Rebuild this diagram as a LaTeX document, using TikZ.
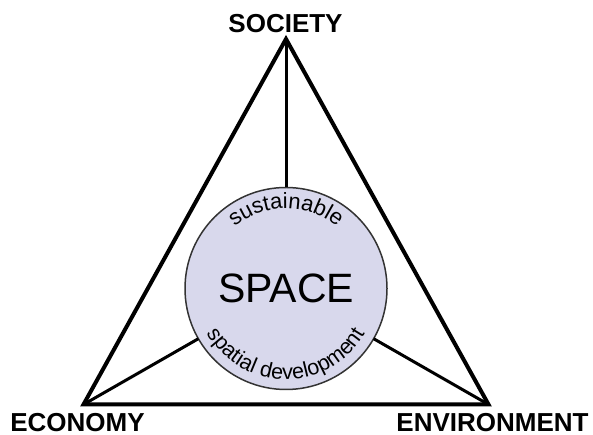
\documentclass[tikz,border=0pt]{standalone}
\usepackage{fontspec}
\setmainfont{Liberation Sans}
\usetikzlibrary{decorations.text}
\definecolor{espacio}{RGB}{216,216,236}
\begin{document}
\begin{tikzpicture}[x=1pt,y=1pt,every node/.style={inner sep=0pt},
    lado/.style={line width=4pt},
    radio/.style={line width=3pt},
    vertice/.style={font=\fontsize{26}{26}\selectfont\bfseries,anchor=base}]
    \useasboundingbox (0,0) rectangle (593,435);
    % Triangle of the three pillars with space in the middle.
    \coordinate (s) at (286,396);
    \coordinate (e) at (83.5,30.5);
    \coordinate (n) at (488.5,30.5);
    \draw[lado] (s) -- (e) -- (n) -- cycle;

    \node[circle,draw=black!80,line width=1.5pt,fill=espacio,minimum size=202pt,outer sep=0pt,
          font=\fontsize{41}{41}\selectfont] (space) at (286,146.5) {SPACE};
    \draw[radio] (s) -- (space);
    \draw[radio] (e) -- (space);
    \draw[radio] (n) -- (space);

    \path[decorate,decoration={text along path,text align=center,
          text={|\fontsize{22}{22}\selectfont|sustainable}}]
        ([shift={(155:80)}]space.center) arc[start angle=155,end angle=25,radius=80];
    \path[decorate,decoration={text along path,text align=center,
          text={|\fontsize{21.5}{21.5}\selectfont|spatial development}}]
        ([shift={(205:91)}]space.center) arc[start angle=205,end angle=335,radius=91];

    \node[vertice] (society) at (285.5,402) {SOCIETY};
    \node[vertice] (economy) at (77.5,3) {ECONOMY};
    \node[vertice] (environment) at (492.5,3) {ENVIRONMENT};
\end{tikzpicture}
\end{document}
